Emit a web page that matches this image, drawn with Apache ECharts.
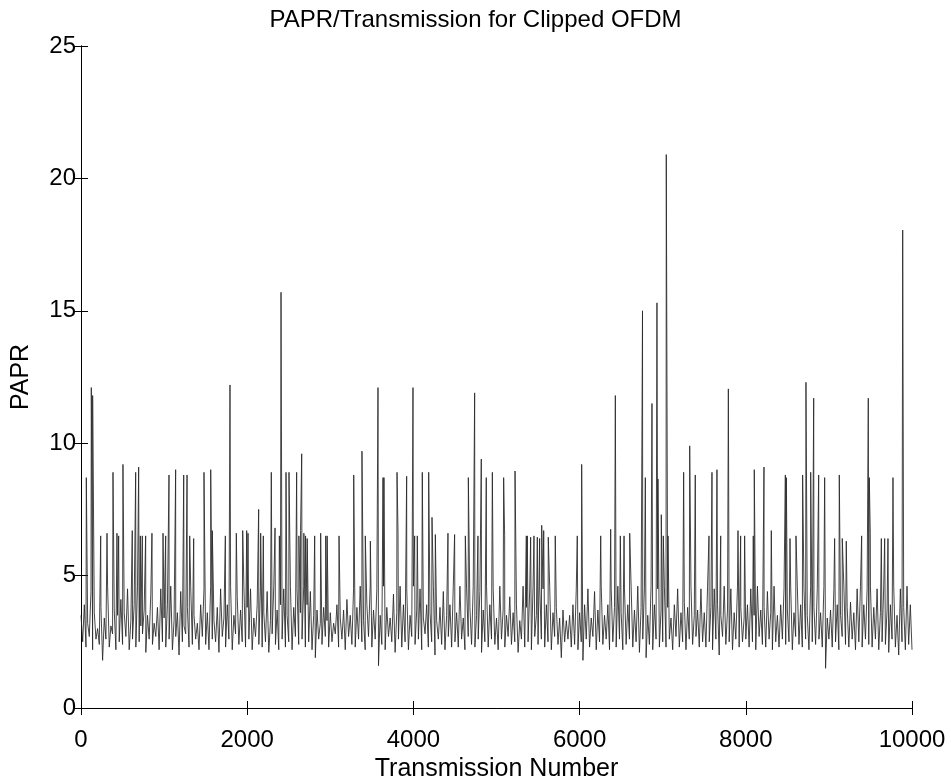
<!DOCTYPE html>
<html>
<head>
<meta charset="utf-8">
<script src="https://cdn.jsdelivr.net/npm/echarts@6/dist/echarts.min.js"></script>
<style>
html,body{margin:0;padding:0;background:#fff;overflow:hidden;}
#chart{width:951px;height:778px;}
</style>
</head>
<body>
<div id="chart"></div>
<script>
// ---- Data ----
var chartTitle = 'PAPR/Transmission for Clipped OFDM';
var xName = 'Transmission Number';
var yName = 'PAPR';
var xTicks = [0, 2000, 4000, 6000, 8000, 10000];
var yTicks = [0, 5, 10, 15, 20, 25];

// background noise band, one reading every 20 transmissions (x = 0, 20, ... 10000)
var baseStep = 20;
var baseValues = [
3.5,2.5,3.9,2.3,3.2, 2.7,4.4,2.2,3.6,2.6, 3.0,2.4,3.8,1.8,3.4, 2.6,4.6,2.3,3.1,2.8, 3.7,2.2,3.5,2.5,4.1,
2.4,3.6,2.7,4.5,2.2, 3.3,2.6,3.9,2.3,4.6, 2.5,3.1,2.8,3.7,2.1, 3.5,2.6,4.3,2.4,3.2, 2.7,3.8,2.2,4.5,2.5,
3.4,2.3,3.9,2.6,4.6, 2.2,3.3,2.7,3.6,2.0, 4.4,2.5,3.1,2.8,3.8, 2.3,4.6,2.4,3.5,2.6, 3.2,2.2,3.9,2.7,4.5,
2.4,3.6,2.2,4.6,2.6, 3.3,2.5,3.8,2.1,4.5, 2.7,3.4,2.3,3.9,2.6, 4.6,2.2,3.5,2.8,4.2, 2.4,3.7,2.5,4.6,2.3,
3.8,2.6,4.5,2.2,3.4, 2.7,3.9,2.4,4.6,2.3, 3.6,2.5,4.4,2.1,3.3, 2.8,4.6,2.4,3.7,2.2, 3.9,2.6,4.5,2.3,3.5,
2.5,4.6,2.2,3.8,2.7, 4.5,2.4,3.6,2.6,4.6, 2.3,3.9,2.5,4.4,2.2, 3.5,1.9,3.7,2.6,3.2, 2.4,3.8,2.7,3.3,2.3,
3.6,2.5,3.2,2.8,3.9, 2.3,3.4,2.6,3.7,2.2, 4.1,2.7,3.5,2.4,4.5, 2.3,3.8,2.6,4.6,2.5, 3.3,2.2,3.9,2.7,4.6,
2.3,3.7,2.6,4.5,1.6, 3.5,2.4,4.6,2.2,3.8, 2.7,3.4,2.5,4.3,2.1, 3.6,2.6,4.6,2.3,3.9, 2.5,4.5,2.2,3.5,2.7,
4.6,2.4,3.7,2.6,4.5, 2.2,3.4,2.8,3.9,2.3, 3.6,2.5,4.6,2.0,3.3, 2.6,3.8,2.4,4.4,2.2, 3.5,2.7,3.9,2.3,4.6,
2.5,3.6,2.3,4.6,2.6, 3.4,2.2,4.5,2.7,3.8, 2.4,4.6,2.3,3.5,2.6, 4.4,2.1,3.7,2.5,4.6, 2.3,3.9,2.6,4.5,2.4,
3.4,2.2,4.6,2.6,3.7, 2.3,3.5,2.7,4.2,2.4, 3.6,2.5,3.9,2.1,3.3, 2.6,4.6,2.3,3.8,2.5, 4.5,2.2,4.6,2.7,3.5,
2.4,4.6,2.6,4.5,2.3, 3.9,2.5,4.6,2.2,3.6, 2.7,3.8,2.4,3.4,1.9, 3.7,2.5,3.3,2.6,3.5, 2.3,3.9,2.4,4.5,2.2,
3.6,2.5,1.8,3.9,2.6, 4.5,2.3,3.4,2.7,4.4, 2.2,3.7,2.5,4.6,2.4, 3.5,2.6,3.9,2.2,4.5, 2.5,3.8,2.3,4.6,2.6,
3.6,2.2,4.5,2.4,3.9, 2.6,4.6,2.3,3.7,2.5, 4.6,2.1,3.8,2.6,4.5, 1.9,3.5,2.4,4.6,2.2, 3.9,2.6,4.5,2.3,3.7,
2.5,4.6,2.3,3.8,2.6, 3.4,2.2,3.9,2.7,4.5, 2.3,3.6,2.5,4.0,2.2, 3.8,2.6,4.6,2.4,3.5, 2.7,3.7,2.3,4.5,2.5,
3.6,2.3,4.6,2.5,3.8, 2.2,4.5,2.6,3.9,2.0, 3.5,2.7,4.6,2.4,3.7, 2.5,4.5,2.2,3.6,2.6, 4.6,2.3,3.8,2.5,3.4,
2.6,3.9,2.3,4.5,2.5, 3.5,2.2,4.6,2.7,3.7, 2.4,3.8,2.3,4.4,2.6, 3.6,2.2,4.6,2.5,3.5, 2.3,3.9,2.6,4.5,2.4,
3.7,2.5,4.6,2.2,3.6, 2.7,4.6,2.4,3.9,2.3, 4.5,2.6,3.5,2.2,4.6, 2.5,3.8,2.4,4.5,2.6, 3.6,2.3,4.6,1.5,3.4,
2.6,3.7,2.3,4.5,2.5, 3.9,2.2,3.5,2.7,4.6, 2.4,3.8,2.3,4.0,2.6, 3.6,2.2,4.5,2.5,4.6, 2.3,3.9,2.6,4.5,2.4,
4.6,2.3,3.8,2.6,4.5, 2.2,3.6,2.5,4.6,2.4, 3.7,2.1,3.9,2.6,4.6, 2.3,3.5,2.0,4.5,2.5, 3.8,2.2,4.6,2.4,3.9,
2.2
];

// isolated PAPR peaks: transmission number and peak value
var peakX = [
64,124,140,237,313,385,433,453,505,617,658,694,714,738,778,854,987,1019,1059,1139,1236,1276,1308,1356,1480,1561,1580,
1737,1793,1869,1946,1994,2010,2138,2162,2194,2290,2335,2387,2407,2467,2503,2595,2622,2642,2656,2682,2702,2722,2812,2884,2945,2962,3105,3282,3381,
3421,3482,3574,3634,3646,3803,3815,3919,3995,4015,4047,4107,4184,4224,4264,4416,4496,4625,4661,4737,4777,4817,4877,4950,
5086,5098,5223,5359,5371,5411,5451,5491,5519,5544,5568,5623,5707,5972,6025,6254,6374,6430,6490,6535,6603,
6757,6791,6871,6931,6943,6983,7007,7043,7064,7252,7325,7392,7557,7593,7653,7698,7790,7906,7938,7986,8090,8102,8219,8307,
8476,8488,8532,8604,8684,8724,8781,8817,8877,8949,9069,9125,9161,9209,9394,9474,9486,9498,9631,9671,9711,9771,9888
];
var peakValues = [
8.7,12.1,11.8,6.5,6.6,8.9,6.6,6.5,9.2,6.7,8.9,9.1,6.5,6.5,6.5,6.6,6.6,6.5,8.8,9.0,8.8,8.8,6.5,6.4,8.9,9.0,6.7,
6.5,12.2,6.6,6.7,6.7,6.6,7.5,6.6,6.5,8.9,6.8,6.5,15.7,8.9,8.9,8.9,6.5,6.7,9.6,6.6,6.5,6.4,6.5,6.6,6.5,6.5,6.5,8.8,9.7,
6.5,6.3,12.1,8.7,8.7,8.9,6.6,8.75,12.1,6.5,6.5,8.9,8.9,7.2,6.55,6.6,6.55,6.5,8.7,11.9,6.5,9.4,8.7,8.9,
8.7,6.5,8.95,6.5,6.5,6.45,6.5,6.45,6.4,6.9,6.7,6.45,6.5,6.5,9.2,6.5,6.75,11.8,6.5,6.5,6.6,
15.0,8.7,11.5,15.3,8.65,7.3,6.5,20.9,6.5,8.9,9.9,8.8,6.5,8.9,9.0,6.5,12.05,6.7,6.5,6.5,6.5,9.0,9.1,6.7,
8.8,8.7,6.4,6.5,8.8,12.3,8.9,11.7,8.8,8.7,6.4,8.8,6.4,6.3,6.5,11.7,8.7,6.6,6.4,6.4,6.4,8.7,18.05
];

// ---- build series points from the arrays ----
var points = [];
for (var i = 0; i < baseValues.length; i++) points.push([i * baseStep, baseValues[i]]);
for (var j = 0; j < peakX.length; j++) points.push([peakX[j], peakValues[j]]);
points.sort(function (a, b) { return a[0] - b[0]; });

var FONT = 'Liberation Sans, Arial, Helvetica, sans-serif';
var FS = 24;
var txt = { color: '#000', fontFamily: FONT, fontSize: 25 };
var lineBlack = { lineStyle: { color: '#000', width: 1 } };
var plain = function (v) { return String(v); };

var chart = echarts.init(document.getElementById('chart'), null, { renderer: 'canvas' });
chart.setOption({
  animation: false,
  backgroundColor: '#fff',
  title: {
    text: chartTitle, left: 'center', top: 3,
    textStyle: { color: '#000', fontFamily: FONT, fontSize: 24, fontWeight: 'normal' }
  },
  grid: { left: 81, right: 39, top: 46, bottom: 70, containLabel: false, outerBoundsMode: 'none' },
  xAxis: [{
    type: 'value', min: xTicks[0], max: xTicks[xTicks.length - 1], interval: 2000,
    position: 'bottom',
    name: xName, nameLocation: 'middle', nameGap: 46,
    nameTextStyle: txt,
    axisLine: lineBlack,
    axisTick: { inside: true, length: 7, lineStyle: { color: '#000' } },
    axisLabel: { color: '#000', fontFamily: FONT, fontSize: FS, margin: 20, formatter: plain },
    splitLine: { show: false }
  }, {
    type: 'value', min: xTicks[0], max: xTicks[xTicks.length - 1], interval: 2000,
    position: 'top',
    axisLine: lineBlack,
    axisTick: { inside: true, length: 7, lineStyle: { color: '#000' } },
    axisLabel: { show: false },
    splitLine: { show: false }
  }],
  yAxis: [{
    type: 'value', min: yTicks[0], max: yTicks[yTicks.length - 1], interval: 5,
    position: 'left',
    name: yName, nameLocation: 'middle', nameGap: 47, nameRotate: 90,
    nameTextStyle: txt,
    axisLine: lineBlack,
    axisTick: { inside: true, length: 7, lineStyle: { color: '#000' } },
    axisLabel: { color: '#000', fontFamily: FONT, fontSize: FS, margin: 5, formatter: plain },
    splitLine: { show: false }
  }, {
    type: 'value', min: yTicks[0], max: yTicks[yTicks.length - 1], interval: 5,
    position: 'right',
    axisLine: lineBlack,
    axisTick: { inside: true, length: 7, lineStyle: { color: '#000' } },
    axisLabel: { show: false },
    splitLine: { show: false }
  }],
  series: [{
    type: 'line',
    data: points,
    xAxisIndex: 0, yAxisIndex: 0,
    showSymbol: false, symbol: 'none',
    sampling: null,
    lineStyle: { color: '#262626', width: 0.85 },
    silent: true
  }]
});
</script>
</body>
</html>
